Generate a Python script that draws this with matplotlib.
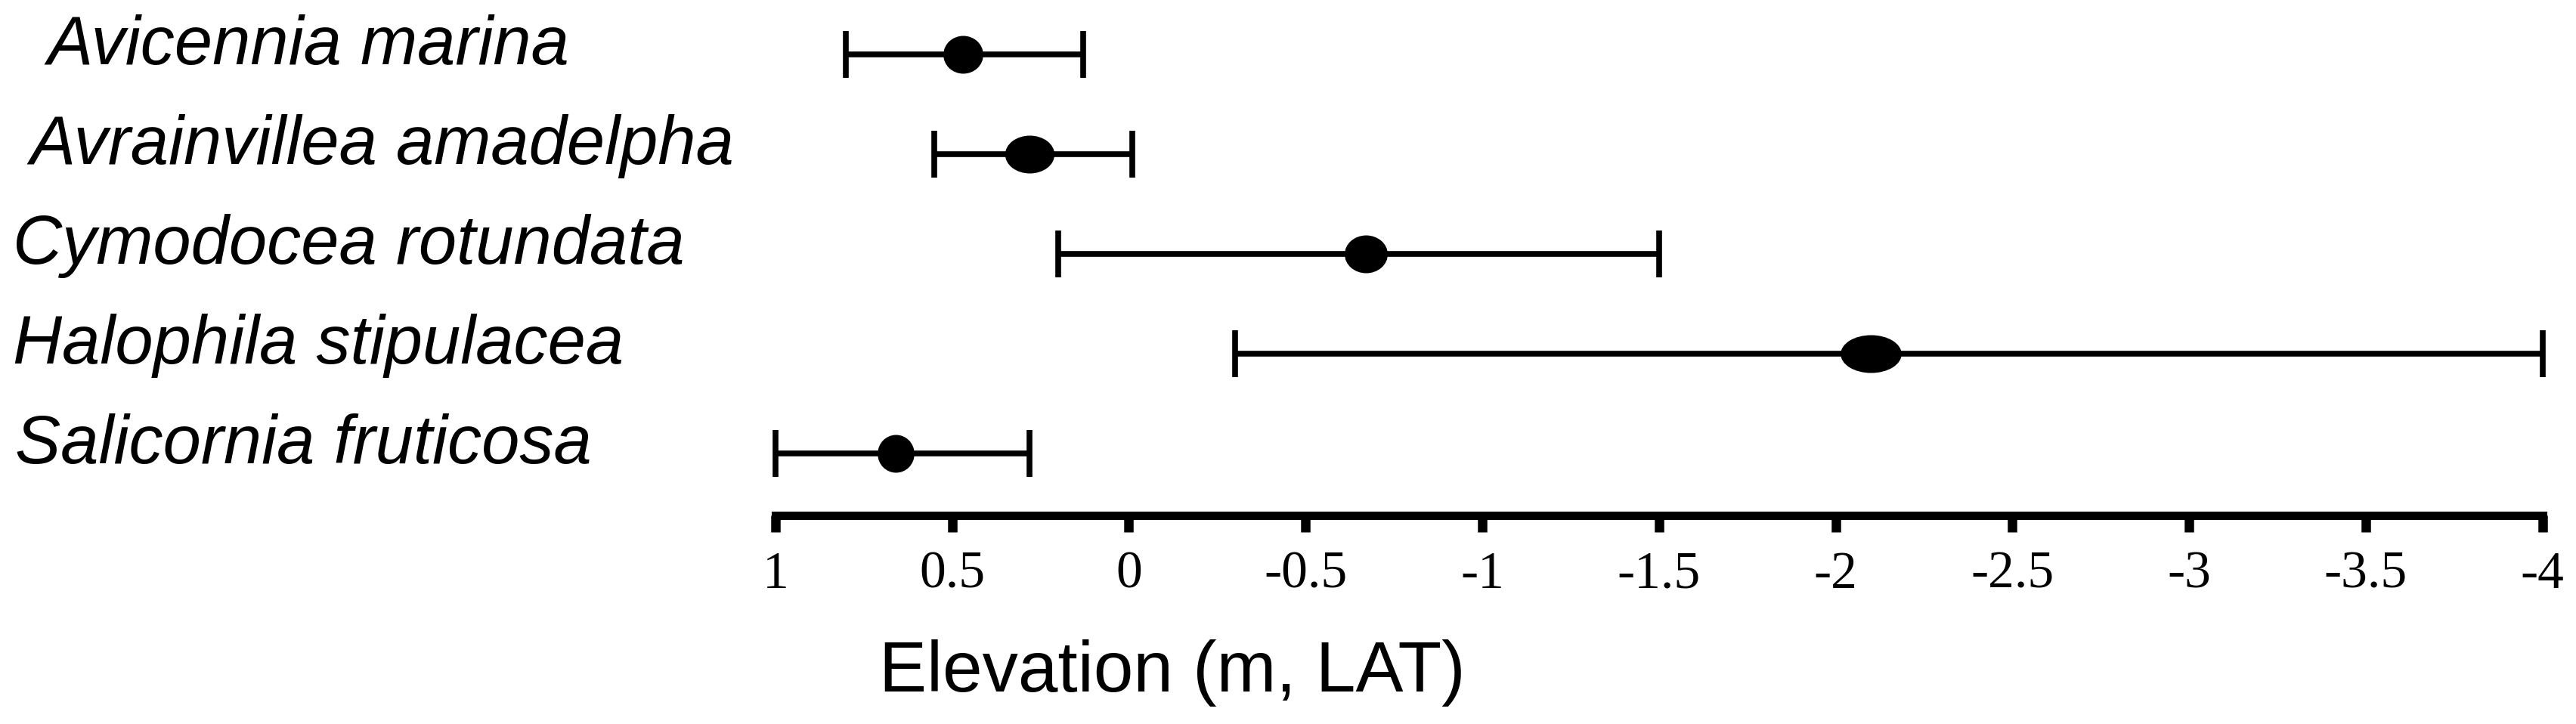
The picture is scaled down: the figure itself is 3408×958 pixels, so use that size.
import numpy as np
import matplotlib
matplotlib.use("Agg")
import matplotlib.pyplot as plt
from matplotlib.path import Path
from matplotlib.transforms import Affine2D, blended_transform_factory

species = ["Avicennia marina", "Avrainvillea amadelpha", "Cymodocea rotundata",
           "Halophila stipulacea", "Salicornia fruticosa"]
# elevation (m, LAT): mean, upper end (left) and lower end (right)
mean = np.array([0.47, 0.28, -0.67, -2.10, 0.66])
upper = np.array([0.80, 0.55, 0.20, -0.30, 1.00])
lower = np.array([0.13, -0.01, -1.50, -4.00, 0.28])
ticks = [1, 0.5, 0, -0.5, -1, -1.5, -2, -2.5, -3, -3.5, -4]
tick_labels = ["1", "0.5", "0", "-0.5", "-1", "-1.5", "-2", "-2.5", "-3", "-3.5", "-4"]

# dot widths in points (the dots are slightly squashed ellipses)
dot_w = [37, 46, 40, 57, 34]
dot_h = 35
label_x = [0.0182, 0.0115, 0.005, 0.005, 0.006]

fig = plt.figure(figsize=(34.08, 9.58), dpi=100)
ax = fig.add_axes([0.301, 0.288, 0.686, 0.712])

y = np.arange(len(species))
for i in range(len(species)):
    w = dot_w[i]
    m = Path.unit_circle().transformed(Affine2D().scale(w, dot_h))
    ax.errorbar(mean[i], y[i],
                xerr=[[mean[i] - lower[i]], [upper[i] - mean[i]]],
                fmt="none", ecolor="black", elinewidth=5.5,
                capsize=22, capthick=5.5, clip_on=False)
    ax.plot(mean[i], y[i], marker=m, markersize=max(w, dot_h),
            color="black", linestyle="none", clip_on=False)

ax.set_xlim(1, -4)
ax.set_ylim(len(species) - 1 + 0.62, -0.545)
ax.set_xticks(ticks)
ax.set_xticklabels(tick_labels, family="Liberation Serif", fontsize=50)
ax.set_yticks([])
for s in ["left", "top", "right"]:
    ax.spines[s].set_visible(False)
ax.spines["bottom"].set_linewidth(8)
ax.spines["bottom"].set_capstyle("projecting")
ax.tick_params(axis="x", direction="out", length=16, width=9, pad=18)

tr = blended_transform_factory(fig.transFigure, ax.transData)
for i, name in enumerate(species):
    ax.text(label_x[i], y[i] + 0.1, name, transform=tr, ha="left", va="baseline",
            family="Liberation Sans", style="italic", fontsize=65, clip_on=False)

fig.text(0.455, 0.07, "Elevation (m, LAT)", ha="center", va="center",
         family="Liberation Sans", fontsize=68)

fig.savefig("out.png", dpi=100)
